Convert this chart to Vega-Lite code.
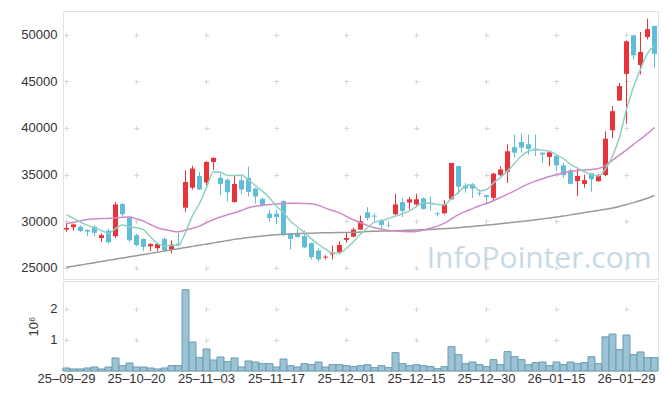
{
  "$schema": "https://vega.github.io/schema/vega-lite/v6.json",
  "padding": {"left": 20, "top": 10, "right": 8, "bottom": 5},
  "spacing": 0,
  "config": {
    "font": "Liberation Sans",
    "view": {"stroke": "#e2e2e2", "strokeWidth": 1},
    "axis": {
      "labelFont": "Liberation Sans", "labelFontSize": 13, "labelColor": "#333333",
      "titleFont": "Liberation Sans", "titleFontSize": 13, "titleFontWeight": "normal", "titleColor": "#333333",
      "gridColor": "#d6d6d6", "gridWidth": 1, "domain": false, "ticks": false, "labelPadding": 6
    }
  },
  "datasets": {
    "stock": [
      {"date": "25-09-29", "open": 29100, "high": 29830, "low": 28870, "close": 29280, "volume": 97000, "ma5": 30700, "ma20": 29720, "ma60": 25050},
      {"date": "25-09-30", "open": 29350, "high": 29750, "low": 29000, "close": 29650, "volume": 65000, "ma5": 30300, "ma20": 29880, "ma60": 25175},
      {"date": "25-10-01", "open": 29400, "high": 29550, "low": 28850, "close": 28950, "volume": 65000, "ma5": 29900, "ma20": 30030, "ma60": 25300},
      {"date": "25-10-02", "open": 29050, "high": 29150, "low": 28380, "close": 28880, "volume": 97000, "ma5": 29550, "ma20": 30190, "ma60": 25425},
      {"date": "25-10-10", "open": 29400, "high": 29550, "low": 28400, "close": 28750, "volume": 129000, "ma5": 29300, "ma20": 30240, "ma60": 25550},
      {"date": "25-10-13", "open": 28200, "high": 28700, "low": 27800, "close": 28500, "volume": 65000, "ma5": 29000, "ma20": 30280, "ma60": 25675},
      {"date": "25-10-14", "open": 29000, "high": 29200, "low": 27600, "close": 27750, "volume": 129000, "ma5": 28700, "ma20": 30300, "ma60": 25800},
      {"date": "25-10-15", "open": 28400, "high": 32050, "low": 28200, "close": 31800, "volume": 420000, "ma5": 29200, "ma20": 30360, "ma60": 25925},
      {"date": "25-10-16", "open": 31850, "high": 31950, "low": 30500, "close": 30750, "volume": 172000, "ma5": 29580, "ma20": 30420, "ma60": 26050},
      {"date": "25-10-17", "open": 30350, "high": 30500, "low": 27800, "close": 27950, "volume": 258000, "ma5": 29400, "ma20": 30440, "ma60": 26175},
      {"date": "25-10-20", "open": 28500, "high": 28650, "low": 27300, "close": 27450, "volume": 129000, "ma5": 29300, "ma20": 30250, "ma60": 26300},
      {"date": "25-10-21", "open": 28100, "high": 28150, "low": 26800, "close": 27250, "volume": 129000, "ma5": 29100, "ma20": 30010, "ma60": 26425},
      {"date": "25-10-22", "open": 27300, "high": 27650, "low": 26800, "close": 27550, "volume": 97000, "ma5": 28300, "ma20": 29650, "ma60": 26550},
      {"date": "25-10-23", "open": 27100, "high": 27700, "low": 26800, "close": 27550, "volume": 65000, "ma5": 27600, "ma20": 29290, "ma60": 26675},
      {"date": "25-10-24", "open": 28100, "high": 28300, "low": 26700, "close": 26900, "volume": 97000, "ma5": 27350, "ma20": 29100, "ma60": 26800},
      {"date": "25-10-27", "open": 26950, "high": 27950, "low": 26550, "close": 27500, "volume": 172000, "ma5": 27400, "ma20": 28950, "ma60": 26925},
      {"date": "25-10-28", "open": 27600, "high": 28750, "low": 27220, "close": 27450, "volume": 172000, "ma5": 27450, "ma20": 28860, "ma60": 27050},
      {"date": "25-10-29", "open": 31450, "high": 35450, "low": 31000, "close": 34200, "volume": 2620000, "ma5": 28800, "ma20": 29050, "ma60": 27175},
      {"date": "25-10-30", "open": 33600, "high": 35950, "low": 33400, "close": 35650, "volume": 935000, "ma5": 30600, "ma20": 29250, "ma60": 27300},
      {"date": "25-10-31", "open": 34850, "high": 35300, "low": 33380, "close": 33400, "volume": 430000, "ma5": 31900, "ma20": 29475, "ma60": 27425},
      {"date": "25-11-03", "open": 34150, "high": 36450, "low": 33850, "close": 36350, "volume": 710000, "ma5": 33600, "ma20": 29850, "ma60": 27550},
      {"date": "25-11-04", "open": 36350, "high": 36850, "low": 35500, "close": 36800, "volume": 355000, "ma5": 35300, "ma20": 30190, "ma60": 27675},
      {"date": "25-11-05", "open": 34650, "high": 35100, "low": 32800, "close": 34000, "volume": 452000, "ma5": 35250, "ma20": 30450, "ma60": 27800},
      {"date": "25-11-06", "open": 34450, "high": 34600, "low": 32100, "close": 33100, "volume": 301000, "ma5": 34900, "ma20": 30700, "ma60": 27925},
      {"date": "25-11-07", "open": 32050, "high": 34950, "low": 32000, "close": 34000, "volume": 420000, "ma5": 34900, "ma20": 30900, "ma60": 28050},
      {"date": "25-11-10", "open": 34400, "high": 34900, "low": 32900, "close": 33400, "volume": 129000, "ma5": 34950, "ma20": 31150, "ma60": 28150},
      {"date": "25-11-11", "open": 34650, "high": 35850, "low": 32650, "close": 33150, "volume": 323000, "ma5": 34400, "ma20": 31440, "ma60": 28250},
      {"date": "25-11-12", "open": 33500, "high": 33600, "low": 31900, "close": 32650, "volume": 290000, "ma5": 33800, "ma20": 31600, "ma60": 28340},
      {"date": "25-11-13", "open": 32400, "high": 32550, "low": 31700, "close": 31750, "volume": 237000, "ma5": 33200, "ma20": 31700, "ma60": 28420},
      {"date": "25-11-14", "open": 30800, "high": 31250, "low": 29950, "close": 30350, "volume": 237000, "ma5": 32500, "ma20": 31800, "ma60": 28490},
      {"date": "25-11-17", "open": 30800, "high": 31250, "low": 29700, "close": 30450, "volume": 129000, "ma5": 31600, "ma20": 31850, "ma60": 28550},
      {"date": "25-11-18", "open": 32150, "high": 32250, "low": 28450, "close": 28500, "volume": 387000, "ma5": 30900, "ma20": 31910, "ma60": 28600},
      {"date": "25-11-19", "open": 28700, "high": 28750, "low": 26950, "close": 28100, "volume": 172000, "ma5": 30000, "ma20": 31920, "ma60": 28640},
      {"date": "25-11-20", "open": 28700, "high": 29200, "low": 28250, "close": 28300, "volume": 129000, "ma5": 29400, "ma20": 31920, "ma60": 28670},
      {"date": "25-11-21", "open": 28400, "high": 29000, "low": 27100, "close": 27200, "volume": 237000, "ma5": 28750, "ma20": 31900, "ma60": 28700},
      {"date": "25-11-24", "open": 27650, "high": 27700, "low": 25900, "close": 26150, "volume": 204000, "ma5": 28100, "ma20": 31870, "ma60": 28720},
      {"date": "25-11-25", "open": 26850, "high": 27100, "low": 25650, "close": 25900, "volume": 290000, "ma5": 27500, "ma20": 31700, "ma60": 28740},
      {"date": "25-11-26", "open": 26100, "high": 26350, "low": 25900, "close": 26200, "volume": 129000, "ma5": 27000, "ma20": 31400, "ma60": 28760},
      {"date": "25-11-27", "open": 26450, "high": 27400, "low": 25900, "close": 26600, "volume": 204000, "ma5": 26600, "ma20": 31150, "ma60": 28770},
      {"date": "25-11-28", "open": 26700, "high": 27850, "low": 26450, "close": 27450, "volume": 204000, "ma5": 26600, "ma20": 30900, "ma60": 28780},
      {"date": "25-12-01", "open": 28000, "high": 28750, "low": 27700, "close": 28200, "volume": 172000, "ma5": 27100, "ma20": 30500, "ma60": 28800},
      {"date": "25-12-02", "open": 28350, "high": 29300, "low": 28250, "close": 29100, "volume": 140000, "ma5": 27800, "ma20": 30150, "ma60": 28820},
      {"date": "25-12-03", "open": 29100, "high": 30600, "low": 29100, "close": 30000, "volume": 172000, "ma5": 28600, "ma20": 29830, "ma60": 28850},
      {"date": "25-12-04", "open": 30950, "high": 31500, "low": 30100, "close": 30350, "volume": 204000, "ma5": 29300, "ma20": 29550, "ma60": 28900},
      {"date": "25-12-05", "open": 30600, "high": 30850, "low": 29950, "close": 30500, "volume": 108000, "ma5": 29900, "ma20": 29300, "ma60": 28920},
      {"date": "25-12-08", "open": 30100, "high": 30250, "low": 29200, "close": 29600, "volume": 172000, "ma5": 30050, "ma20": 29150, "ma60": 28940},
      {"date": "25-12-09", "open": 29600, "high": 29950, "low": 29300, "close": 29550, "volume": 108000, "ma5": 30300, "ma20": 29015, "ma60": 28960},
      {"date": "25-12-10", "open": 30750, "high": 32950, "low": 30650, "close": 31800, "volume": 591000, "ma5": 30550, "ma20": 28950, "ma60": 28980},
      {"date": "25-12-11", "open": 32050, "high": 32500, "low": 30450, "close": 31100, "volume": 237000, "ma5": 30800, "ma20": 28900, "ma60": 29000},
      {"date": "25-12-12", "open": 32000, "high": 32600, "low": 31250, "close": 32350, "volume": 172000, "ma5": 31100, "ma20": 28860, "ma60": 29030},
      {"date": "25-12-15", "open": 31800, "high": 32950, "low": 31500, "close": 32350, "volume": 204000, "ma5": 31600, "ma20": 28900, "ma60": 29060},
      {"date": "25-12-16", "open": 32450, "high": 32550, "low": 31250, "close": 31300, "volume": 172000, "ma5": 31950, "ma20": 29050, "ma60": 29090},
      {"date": "25-12-17", "open": 32000, "high": 32700, "low": 31150, "close": 31950, "volume": 140000, "ma5": 31900, "ma20": 29250, "ma60": 29120},
      {"date": "25-12-18", "open": 30850, "high": 31000, "low": 30500, "close": 30750, "volume": 75000, "ma5": 31800, "ma20": 29475, "ma60": 29160},
      {"date": "25-12-19", "open": 30850, "high": 32250, "low": 30750, "close": 31800, "volume": 140000, "ma5": 31750, "ma20": 29800, "ma60": 29200},
      {"date": "25-12-22", "open": 32350, "high": 36250, "low": 32300, "close": 36250, "volume": 785000, "ma5": 32450, "ma20": 30250, "ma60": 29240},
      {"date": "25-12-23", "open": 35900, "high": 35950, "low": 32900, "close": 33700, "volume": 527000, "ma5": 33100, "ma20": 30700, "ma60": 29300},
      {"date": "25-12-24", "open": 33850, "high": 34100, "low": 33050, "close": 33500, "volume": 237000, "ma5": 33800, "ma20": 31050, "ma60": 29370},
      {"date": "25-12-26", "open": 33950, "high": 34100, "low": 32500, "close": 33500, "volume": 290000, "ma5": 33950, "ma20": 31350, "ma60": 29440},
      {"date": "25-12-29", "open": 33050, "high": 33400, "low": 32700, "close": 32950, "volume": 204000, "ma5": 33250, "ma20": 31650, "ma60": 29510},
      {"date": "25-12-30", "open": 32800, "high": 32800, "low": 31950, "close": 32600, "volume": 140000, "ma5": 33400, "ma20": 31900, "ma60": 29580},
      {"date": "26-01-02", "open": 32500, "high": 35200, "low": 32150, "close": 35100, "volume": 366000, "ma5": 34100, "ma20": 32200, "ma60": 29650},
      {"date": "26-01-05", "open": 34950, "high": 35900, "low": 34850, "close": 35550, "volume": 204000, "ma5": 34700, "ma20": 32550, "ma60": 29730},
      {"date": "26-01-06", "open": 35300, "high": 38250, "low": 34100, "close": 37500, "volume": 624000, "ma5": 35400, "ma20": 32900, "ma60": 29810},
      {"date": "26-01-07", "open": 37950, "high": 39300, "low": 36800, "close": 37350, "volume": 462000, "ma5": 36200, "ma20": 33250, "ma60": 29890},
      {"date": "26-01-08", "open": 38500, "high": 39400, "low": 37350, "close": 37900, "volume": 366000, "ma5": 37000, "ma20": 33650, "ma60": 29970},
      {"date": "26-01-09", "open": 38250, "high": 39300, "low": 37150, "close": 37750, "volume": 204000, "ma5": 37500, "ma20": 34000, "ma60": 30060},
      {"date": "26-01-12", "open": 37800, "high": 39300, "low": 37000, "close": 37600, "volume": 269000, "ma5": 37700, "ma20": 34300, "ma60": 30150},
      {"date": "26-01-13", "open": 37350, "high": 37400, "low": 36250, "close": 37150, "volume": 290000, "ma5": 37600, "ma20": 34550, "ma60": 30250},
      {"date": "26-01-14", "open": 36900, "high": 37450, "low": 35900, "close": 37400, "volume": 172000, "ma5": 37500, "ma20": 34800, "ma60": 30350},
      {"date": "26-01-15", "open": 37000, "high": 37050, "low": 35400, "close": 36000, "volume": 290000, "ma5": 37100, "ma20": 35000, "ma60": 30450},
      {"date": "26-01-16", "open": 36000, "high": 36250, "low": 34650, "close": 34950, "volume": 204000, "ma5": 36700, "ma20": 35200, "ma60": 30550},
      {"date": "26-01-19", "open": 35450, "high": 35600, "low": 33950, "close": 34000, "volume": 290000, "ma5": 36100, "ma20": 35350, "ma60": 30680},
      {"date": "26-01-20", "open": 34300, "high": 35750, "low": 32700, "close": 34850, "volume": 237000, "ma5": 35700, "ma20": 35450, "ma60": 30800},
      {"date": "26-01-21", "open": 34000, "high": 35000, "low": 33600, "close": 34400, "volume": 269000, "ma5": 35300, "ma20": 35500, "ma60": 30930},
      {"date": "26-01-22", "open": 35150, "high": 35150, "low": 33150, "close": 34500, "volume": 462000, "ma5": 35000, "ma20": 35550, "ma60": 31050},
      {"date": "26-01-23", "open": 34300, "high": 35050, "low": 34200, "close": 34950, "volume": 237000, "ma5": 34850, "ma20": 35650, "ma60": 31160},
      {"date": "26-01-26", "open": 34950, "high": 39650, "low": 34850, "close": 38850, "volume": 1100000, "ma5": 35600, "ma20": 36000, "ma60": 31280},
      {"date": "26-01-27", "open": 39750, "high": 42350, "low": 38900, "close": 41800, "volume": 1190000, "ma5": 37000, "ma20": 36550, "ma60": 31420},
      {"date": "26-01-28", "open": 42950, "high": 44850, "low": 42900, "close": 44500, "volume": 688000, "ma5": 39000, "ma20": 37100, "ma60": 31580},
      {"date": "26-01-29", "open": 45800, "high": 49400, "low": 40450, "close": 49300, "volume": 1160000, "ma5": 42000, "ma20": 37650, "ma60": 31780},
      {"date": "26-01-30", "open": 49950, "high": 49950, "low": 47350, "close": 47800, "volume": 527000, "ma5": 44400, "ma20": 38250, "ma60": 31990},
      {"date": "26-02-02", "open": 46750, "high": 50300, "low": 45750, "close": 48150, "volume": 613000, "ma5": 46300, "ma20": 38800, "ma60": 32220},
      {"date": "26-02-03", "open": 49750, "high": 51750, "low": 49500, "close": 50600, "volume": 430000, "ma5": 48000, "ma20": 39400, "ma60": 32470},
      {"date": "26-02-04", "open": 50950, "high": 50950, "low": 46450, "close": 47950, "volume": 430000, "ma5": 48800, "ma20": 40050, "ma60": 32750}
    ]
  },
  "vconcat": [
    {
      "width": 595,
      "height": 268,
      "data": {"name": "stock"},
      "encoding": {
        "x": {
          "field": "date", "type": "ordinal", "sort": null,
          "scale": {"paddingInner": 0, "paddingOuter": 0},
          "axis": {
            "values": ["25-09-29", "25-10-20", "25-11-03", "25-11-17", "25-12-01", "25-12-15", "25-12-30", "26-01-15", "26-01-29"],
            "labels": false, "ticks": false, "domain": false, "title": null,
            "grid": true, "bandPosition": 0.5, "gridDash": [5, 41.609], "gridDashOffset": 25.34
          }
        }
      },
      "layer": [
        {
          "mark": {"type": "rule", "strokeWidth": 1},
          "encoding": {
            "y": {
              "field": "low", "type": "quantitative", "title": null,
              "scale": {"domain": [23800, 52550], "nice": false, "zero": false},
              "axis": {"values": [25000, 30000, 35000, 40000, 45000, 50000], "format": "d", "grid": true, "gridDash": [5, 65], "gridDashOffset": 69}
            },
            "y2": {"field": "high"},
            "color": {"condition": {"test": "datum.close >= datum.open", "value": "#e8333a"}, "value": "#5fbdd9"}
          }
        },
        {
          "mark": {"type": "bar", "size": 5},
          "encoding": {
            "y": {"field": "open", "type": "quantitative", "title": null},
            "y2": {"field": "close"},
            "color": {"condition": {"test": "datum.close >= datum.open", "value": "#e8333a"}, "value": "#5fbdd9"}
          }
        },
        {
          "mark": {"type": "line", "color": "#9a9a9a", "strokeWidth": 1.5, "interpolate": "monotone"},
          "encoding": {"y": {"field": "ma60", "type": "quantitative", "title": null}}
        },
        {
          "mark": {"type": "line", "color": "#cf8ac6", "strokeWidth": 1.5, "interpolate": "monotone"},
          "encoding": {"y": {"field": "ma20", "type": "quantitative", "title": null}}
        },
        {
          "mark": {"type": "line", "color": "#8fd0c3", "strokeWidth": 1.5, "interpolate": "monotone"},
          "encoding": {"y": {"field": "ma5", "type": "quantitative", "title": null}}
        },
        {
          "data": {"values": [{"label": "InfoPointer.com", "date": "26-02-04", "base": 25000}]},
          "mark": {"type": "text", "font": "Open Sans", "fontSize": 30, "color": "#c6d9e5", "align": "right", "baseline": "alphabetic", "dx": -3},
          "encoding": {
            "y": {"field": "base", "type": "quantitative", "title": null},
            "text": {"field": "label"}
          }
        }
      ]
    },
    {
      "width": 595,
      "height": 90,
      "data": {"name": "stock"},
      "mark": {"type": "bar", "fill": "#9cc3d4", "stroke": "#6b9bb2", "strokeWidth": 1},
      "encoding": {
        "x": {
          "field": "date", "type": "ordinal", "sort": null,
          "scale": {"paddingInner": 0, "paddingOuter": 0},
          "axis": {
            "values": ["25-09-29", "25-10-20", "25-11-03", "25-11-17", "25-12-01", "25-12-15", "25-12-30", "26-01-15", "26-01-29"],
            "labelExpr": "join(split(datum.label, '-'), '–')",
            "labelAngle": 0, "labelPadding": 1, "title": null,
            "grid": true, "bandPosition": 0.5, "gridDash": [5, 26.034], "gridDashOffset": 5.6
          }
        },
        "y": {
          "field": "volume", "type": "quantitative",
          "scale": {"domain": [0, 2900000], "nice": false},
          "axis": {"values": [1000000, 2000000], "labelExpr": "datum.value / 1000000", "title": "10⁶", "titlePadding": 9, "grid": true, "gridDash": [5, 65], "gridDashOffset": 69}
        }
      }
    }
  ]
}
